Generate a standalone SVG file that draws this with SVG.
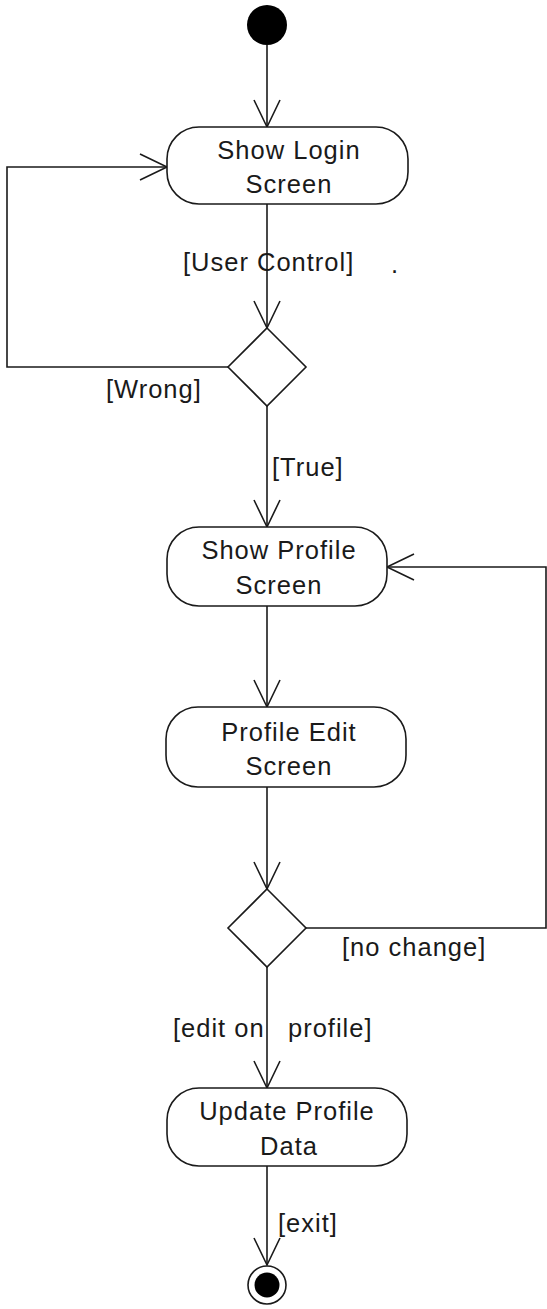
<svg xmlns="http://www.w3.org/2000/svg" width="547" height="1309" viewBox="0 0 547 1309">
<style>
.n{fill:#fff;stroke:#1a1a1a;stroke-width:1.6}
.c{fill:none;stroke:#1a1a1a;stroke-width:1.6}
text{font-family:"Liberation Sans",Arial,sans-serif;font-size:25.5px;letter-spacing:1px;fill:#1a1a1a}
.m{text-anchor:middle}
</style>
<defs>
<marker id="ar" markerUnits="userSpaceOnUse" viewBox="-1 -1 30 30" refX="27" refY="13" markerWidth="30" markerHeight="30" orient="auto">
<path d="M0,0 L27,13 L0,26" fill="none" stroke="#1a1a1a" stroke-width="1.6"/>
</marker>
</defs>
<rect width="547" height="1309" fill="#fff"/>
<g id="connectors">
<path class="c" d="M267,45 V127" marker-end="url(#ar)"/>
<path class="c" d="M267,204 V328" marker-end="url(#ar)"/>
<path class="c" d="M228,367 H7 V167 H167" marker-end="url(#ar)"/>
<path class="c" d="M267,406 V527" marker-end="url(#ar)"/>
<path class="c" d="M267,606 V707" marker-end="url(#ar)"/>
<path class="c" d="M267,787 V889" marker-end="url(#ar)"/>
<path class="c" d="M306,928 H546 V567 H387" marker-end="url(#ar)"/>
<path class="c" d="M267,967 V1088" marker-end="url(#ar)"/>
<path class="c" d="M267,1166 V1265" marker-end="url(#ar)"/>
<text x="183" y="271">[User Control]</text>
<text x="391" y="273">.</text>
<text x="106" y="398">[Wrong]</text>
<text x="272" y="476">[True]</text>
<text x="342" y="956">[no change]</text>
<text y="1037"><tspan x="173">[edit on</tspan><tspan x="288">profile]</tspan></text>
<text x="278" y="1232">[exit]</text>
</g>
<g id="start"><circle cx="267" cy="25" r="20" fill="#000"/></g>
<g id="showLogin"><rect class="n" x="167" y="127" width="241" height="77" rx="32"/><text class="m" x="289" y="159">Show Login</text><text class="m" x="289" y="193">Screen</text></g>
<g id="decision1"><path class="n" d="M267,328 L306,367 L267,406 L228,367 Z"/></g>
<g id="showProfile"><rect class="n" x="167" y="527" width="220" height="79" rx="32"/><text class="m" x="279" y="559">Show Profile</text><text class="m" x="279" y="594">Screen</text></g>
<g id="profileEdit"><rect class="n" x="166" y="707" width="240" height="80" rx="32"/><text class="m" x="289" y="741">Profile Edit</text><text class="m" x="289" y="775">Screen</text></g>
<g id="decision2"><path class="n" d="M267,889 L306,928 L267,967 L228,928 Z"/></g>
<g id="updateProfile"><rect class="n" x="167" y="1088" width="240" height="78" rx="32"/><text class="m" x="287" y="1120">Update Profile</text><text class="m" x="289" y="1155">Data</text></g>
<g id="end"><circle cx="267" cy="1285" r="19" fill="#fff" stroke="#1a1a1a" stroke-width="1.6"/><circle cx="267" cy="1285" r="12.5" fill="#000"/></g>
</svg>
